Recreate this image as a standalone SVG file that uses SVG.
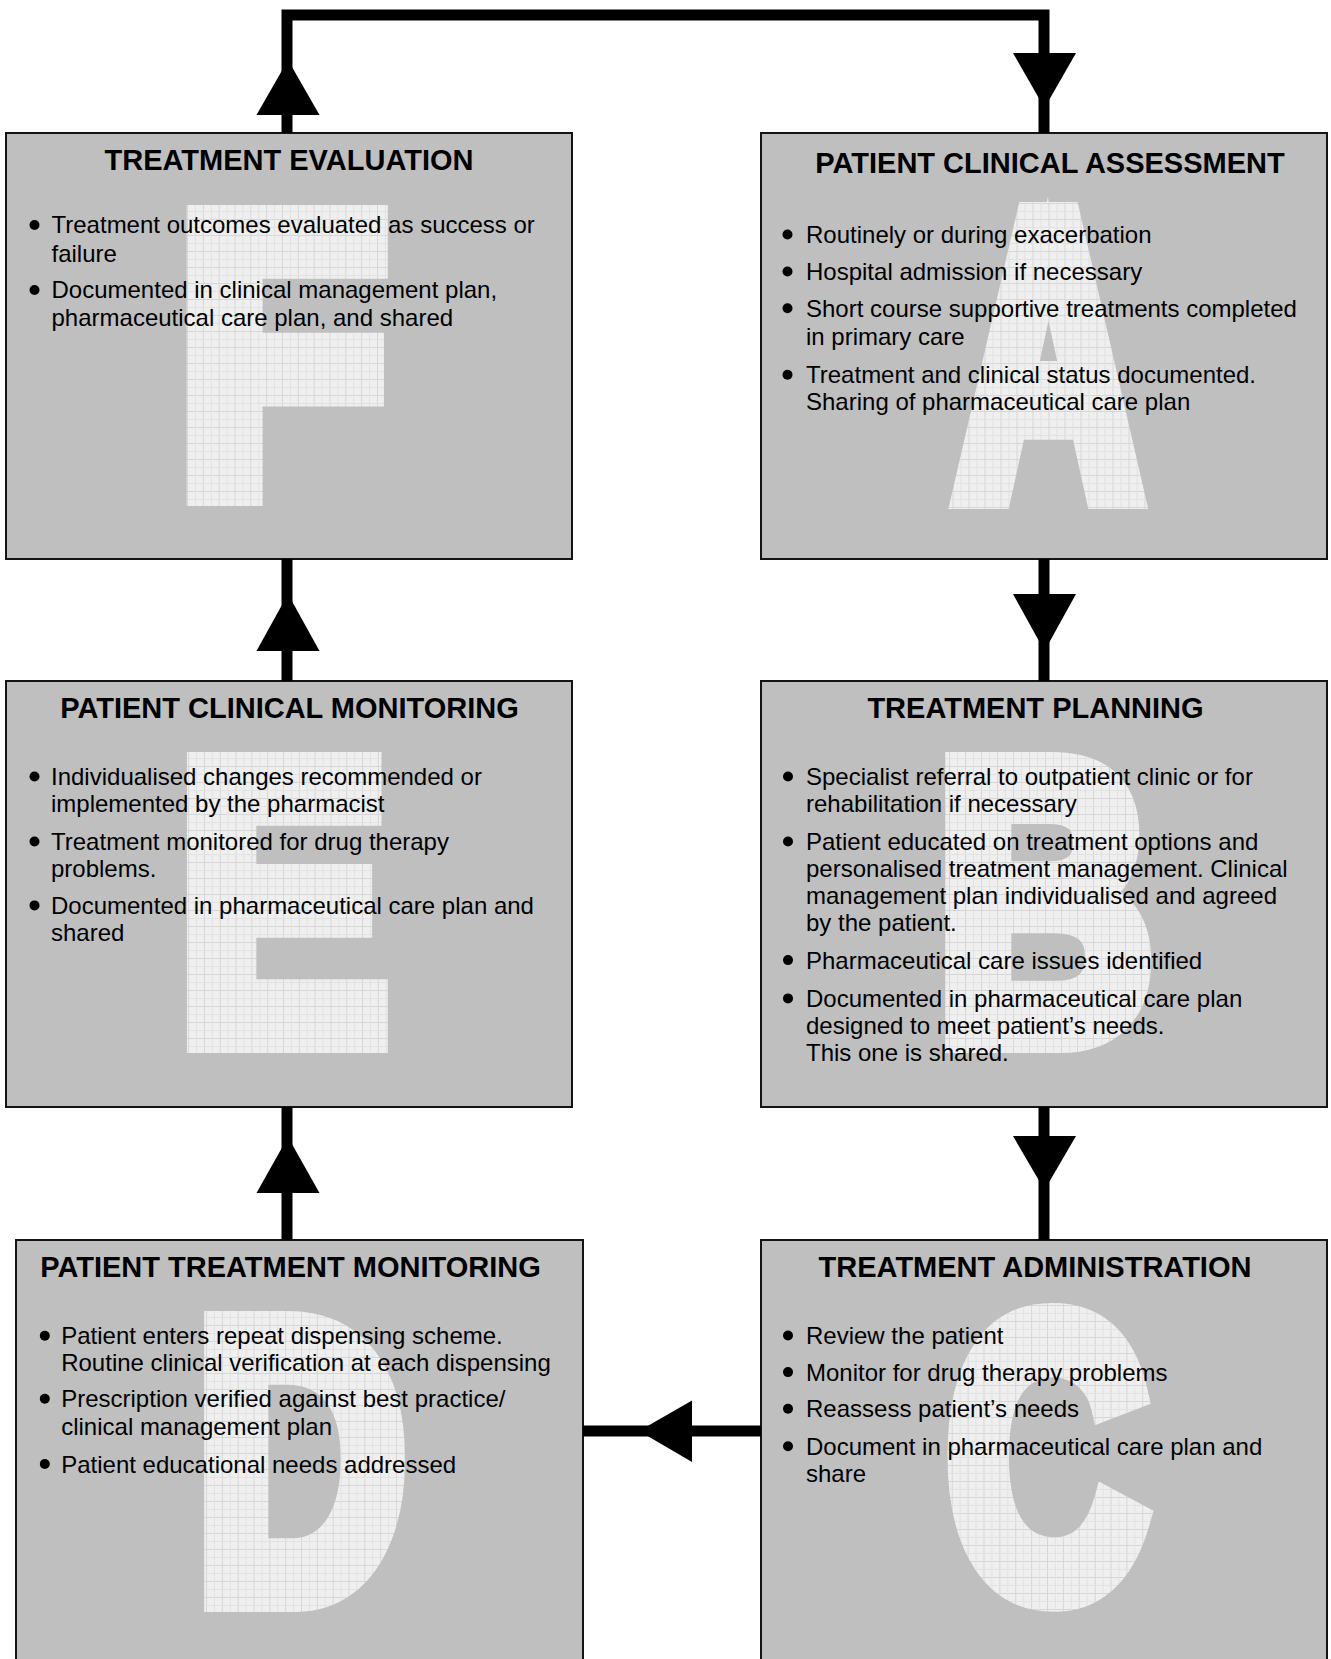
<svg xmlns="http://www.w3.org/2000/svg" xmlns:xlink="http://www.w3.org/1999/xlink" width="1331" height="1659" viewBox="0 0 1331 1659">
<defs>
<style>
.box{fill:#bfbfbf;stroke:#141414;stroke-width:2}
.title{font-family:"Liberation Sans",Arial,sans-serif;font-weight:bold;font-size:29px;fill:#000;text-anchor:middle}
.item{font-family:"Liberation Sans",Arial,sans-serif;font-size:24px;fill:#000}
.dot{fill:#000}
.big{font-family:"Liberation Sans",Arial,sans-serif;font-weight:bold;font-size:394px;text-anchor:middle;stroke-width:30;stroke-linejoin:miter;stroke-miterlimit:10}
.conn{fill:none;stroke:#000;stroke-width:11;stroke-linejoin:miter;stroke-linecap:butt}
.head{fill:#000}
</style>
<pattern id="grid" patternUnits="userSpaceOnUse" width="16" height="16">
<rect width="16" height="16" fill="#efefef"/>
<path d="M0.5 0V16M0 0.5H16" stroke="#d6d6d6" stroke-width="1"/>
<path d="M8.5 0V16M0 8.5H16" stroke="#e2e2e2" stroke-width="1"/>
</pattern>
<pattern id="gF" href="#grid" xlink:href="#grid" patternTransform="scale(1.131,1)"/>
<pattern id="gE" href="#grid" xlink:href="#grid" patternTransform="scale(1.235,1)"/>
<pattern id="gA" href="#grid" xlink:href="#grid" patternTransform="scale(1.58,1)"/>
<pattern id="gB" href="#grid" xlink:href="#grid" patternTransform="scale(1.312,1)"/>
<pattern id="gC" href="#grid" xlink:href="#grid" patternTransform="scale(1.408,1)"/>
<pattern id="gD" href="#grid" xlink:href="#grid" patternTransform="scale(1.337,1)"/>
</defs>
<rect width="1331" height="1659" fill="#fff"/>

<g id="node-F">
<rect class="box" x="6" y="133" width="566" height="426"/>
<g transform="translate(282,491) scale(0.875,1)"><text class="big" x="0" y="0" fill="url(#gF)" stroke="url(#gF)">F</text></g>
<text class="title" x="289" y="169.5">TREATMENT EVALUATION</text>
<circle class="dot" cx="34.5" cy="225" r="5"/>
<text class="item" x="51.5" y="233.3">Treatment outcomes evaluated as success or</text>
<text class="item" x="51.5" y="261.7">failure</text>
<circle class="dot" cx="34.5" cy="290" r="5"/>
<text class="item" x="51.5" y="298.3">Documented in clinical management plan,</text>
<text class="item" x="51.5" y="326">pharmaceutical care plan, and shared</text>
</g>

<g id="node-A">
<rect class="box" x="761" y="133" width="566" height="426"/>
<g transform="translate(1048.5,491) scale(0.633,1)"><text class="big" x="0" y="0" fill="url(#gA)" stroke="url(#gA)" style="stroke-width:36">A</text></g>
<text class="title" x="1050" y="173">PATIENT CLINICAL ASSESSMENT</text>
<circle class="dot" cx="787.5" cy="234.5" r="5"/>
<text class="item" x="806" y="243">Routinely or during exacerbation</text>
<circle class="dot" cx="787.5" cy="271.5" r="5"/>
<text class="item" x="806" y="280">Hospital admission if necessary</text>
<circle class="dot" cx="787.5" cy="308.2" r="5"/>
<text class="item" x="806" y="316.7">Short course supportive treatments completed</text>
<text class="item" x="806" y="345">in primary care</text>
<circle class="dot" cx="787.5" cy="374.8" r="5"/>
<text class="item" x="806" y="383.3">Treatment and clinical status documented.</text>
<text class="item" x="806" y="410">Sharing of pharmaceutical care plan</text>
</g>

<g id="node-E">
<rect class="box" x="6" y="681" width="566" height="426"/>
<g transform="translate(283,1038) scale(0.8,1)"><text class="big" x="0" y="0" fill="url(#gE)" stroke="url(#gE)">E</text></g>
<text class="title" x="289.5" y="718">PATIENT CLINICAL MONITORING</text>
<circle class="dot" cx="34.5" cy="776.5" r="5"/>
<text class="item" x="51" y="785">Individualised changes recommended or</text>
<text class="item" x="51" y="811.7">implemented by the pharmacist</text>
<circle class="dot" cx="34.5" cy="841.5" r="5"/>
<text class="item" x="51" y="850">Treatment monitored for drug therapy</text>
<text class="item" x="51" y="876.8">problems.</text>
<circle class="dot" cx="34.5" cy="905.4" r="5"/>
<text class="item" x="51" y="913.9">Documented in pharmaceutical care plan and</text>
<text class="item" x="51" y="940.7">shared</text>
</g>

<g id="node-B">
<rect class="box" x="761" y="681" width="566" height="426"/>
<g transform="translate(1045,1038) scale(0.762,1)"><text class="big" x="0" y="0" fill="url(#gB)" stroke="url(#gB)">B</text></g>
<text class="title" x="1035.5" y="718">TREATMENT PLANNING</text>
<circle class="dot" cx="788" cy="776.5" r="5"/>
<text class="item" x="806" y="785">Specialist referral to outpatient clinic or for</text>
<text class="item" x="806" y="811.7">rehabilitation if necessary</text>
<circle class="dot" cx="788" cy="841.5" r="5"/>
<text class="item" x="806" y="850">Patient educated on treatment options and</text>
<text class="item" x="806" y="876.8">personalised treatment management. Clinical</text>
<text class="item" x="806" y="903.6">management plan individualised and agreed</text>
<text class="item" x="806" y="931">by the patient.</text>
<circle class="dot" cx="788" cy="960.1" r="5"/>
<text class="item" x="806" y="968.6">Pharmaceutical care issues identified</text>
<circle class="dot" cx="788" cy="998.4" r="5"/>
<text class="item" x="806" y="1006.9">Documented in pharmaceutical care plan</text>
<text class="item" x="806" y="1034.4">designed to meet patient’s needs.</text>
<text class="item" x="806" y="1061.2">This one is shared.</text>
</g>

<g id="node-D">
<rect class="box" x="16" y="1240" width="567" height="440"/>
<g transform="translate(301,1597) scale(0.74,1)"><text class="big" x="0" y="0" fill="url(#gD)" stroke="url(#gD)">D</text></g>
<text class="title" x="290.5" y="1276.5">PATIENT TREATMENT MONITORING</text>
<circle class="dot" cx="44.8" cy="1335.7" r="5"/>
<text class="item" x="61.2" y="1344.2">Patient enters repeat dispensing scheme.</text>
<text class="item" x="61.2" y="1371">Routine clinical verification at each dispensing</text>
<circle class="dot" cx="44.8" cy="1398.8" r="5"/>
<text class="item" x="61.2" y="1407.3">Prescription verified against best practice/</text>
<text class="item" x="61.2" y="1435">clinical management plan</text>
<circle class="dot" cx="44.8" cy="1464" r="5"/>
<text class="item" x="61.2" y="1472.5">Patient educational needs addressed</text>
</g>

<g id="node-C">
<rect class="box" x="761" y="1240" width="566" height="440"/>
<g transform="translate(1047,1593) scale(0.705,1)"><text class="big" x="0" y="0" fill="url(#gC)" stroke="url(#gC)">C</text></g>
<text class="title" x="1035" y="1276.5">TREATMENT ADMINISTRATION</text>
<circle class="dot" cx="788" cy="1335.5" r="5"/>
<text class="item" x="806" y="1344">Review the patient</text>
<circle class="dot" cx="788" cy="1372.1" r="5"/>
<text class="item" x="806" y="1380.6">Monitor for drug therapy problems</text>
<circle class="dot" cx="788" cy="1408.8" r="5"/>
<text class="item" x="806" y="1417.3">Reassess patient’s needs</text>
<circle class="dot" cx="788" cy="1446.2" r="5"/>
<text class="item" x="806" y="1454.7">Document in pharmaceutical care plan and</text>
<text class="item" x="806" y="1482">share</text>
</g>

<g id="connectors">
<path class="conn" d="M287 133V15H1044V133"/>
<polygon class="head" points="288,60 256.5,115 319.5,115"/>
<polygon class="head" points="1013,53 1076,53 1044.5,108"/>
<path class="conn" d="M1044 559V681"/>
<polygon class="head" points="1013,594 1076,594 1044.5,651"/>
<path class="conn" d="M1044 1107V1240"/>
<polygon class="head" points="1013,1136 1076,1136 1044.5,1190"/>
<path class="conn" d="M761 1431H583"/>
<polygon class="head" points="639,1431 692,1400.5 692,1462"/>
<path class="conn" d="M287 1240V1107"/>
<polygon class="head" points="288,1137 256.5,1193 319.5,1193"/>
<path class="conn" d="M287 681V559"/>
<polygon class="head" points="288,594 256.5,651 319.5,651"/>
</g>
</svg>
